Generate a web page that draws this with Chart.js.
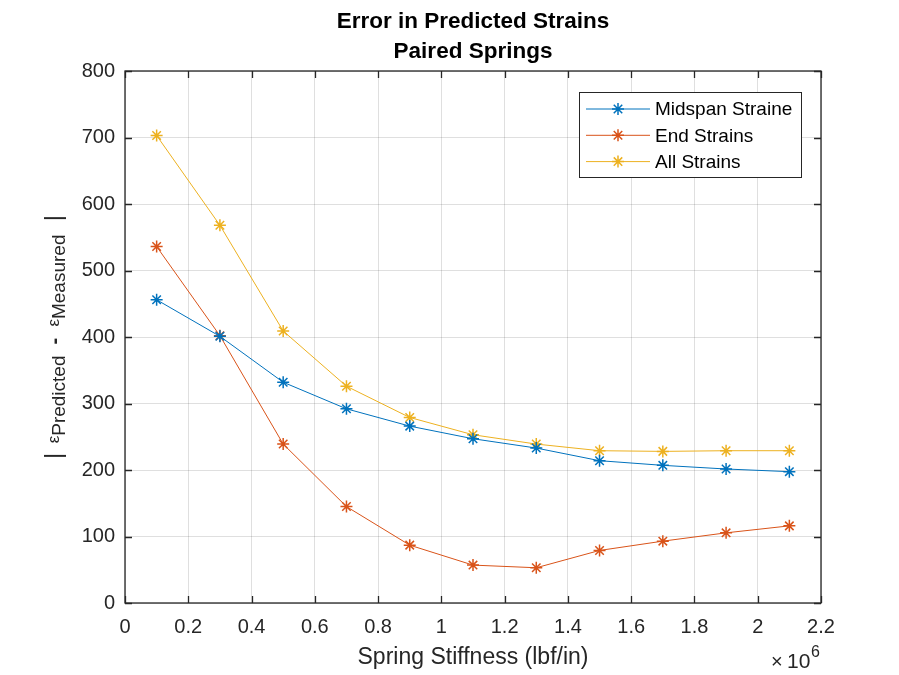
<!DOCTYPE html>
<html>
<head>
<meta charset="utf-8">
<script src="https://cdn.jsdelivr.net/npm/chart.js@4.4.1/dist/chart.umd.min.js"></script>
<style>
  html, body { margin: 0; padding: 0; background: #fff; }
  #wrap { width: 899px; height: 675px; }
</style>
</head>
<body>
<div id="wrap"><canvas id="errChart" width="899" height="675"></canvas></div>
<script>
// values
const stiffness = [100000, 300000, 500000, 700000, 900000, 1100000, 1300000, 1500000, 1700000, 1900000, 2100000];
const midspanErr = [456, 401, 332, 292, 266, 247, 233, 214, 207, 201.5, 197.5];
const endErr = [536, 402, 239, 145, 87, 57, 53, 79, 93, 105.5, 116];
const allErr = [703, 568, 409, 326, 279, 253, 239, 229, 228, 229, 229];

const seriesNames = ['Midspan Straine', 'End Strains', 'All Strains'];
const seriesColors = ['#0072BD', '#D95319', '#EDB120'];
const titleLines = ['Error in Predicted Strains', 'Paired Springs'];
const xLabel = 'Spring Stiffness (lbf/in)';

const FONT = '"Liberation Sans", Arial, Helvetica, sans-serif';
const AXIS_COLOR = '#262626';

function toPoints(ys) {
    return stiffness.map((x, i) => ({ x: x, y: ys[i] }));
}

// asterisk marker like MATLAB '*'
function drawStar(ctx, x, y, r) {
    ctx.beginPath();
    for (let k = 0; k < 4; k++) {
        const a = k * Math.PI / 4;
        ctx.moveTo(x - r * Math.cos(a), y - r * Math.sin(a));
        ctx.lineTo(x + r * Math.cos(a), y + r * Math.sin(a));
    }
    ctx.stroke();
}

const decorPlugin = {
    id: 'decor',
    afterDraw(chart) {
        const ctx = chart.ctx;
        const area = chart.chartArea;
        const xs = chart.scales.x;
        const ys = chart.scales.y;
        ctx.save();

        // box + inward ticks on all four sides
        ctx.strokeStyle = AXIS_COLOR;
        ctx.lineWidth = 1.3;
        ctx.strokeRect(area.left, area.top, area.right - area.left, area.bottom - area.top);
        const tl = 7;
        ctx.beginPath();
        xs.ticks.forEach(t => {
            const px = Math.round(xs.getPixelForValue(t.value)) + 0.5;
            ctx.moveTo(px, area.bottom); ctx.lineTo(px, area.bottom - tl);
            ctx.moveTo(px, area.top); ctx.lineTo(px, area.top + tl);
        });
        ys.ticks.forEach(t => {
            const py = Math.round(ys.getPixelForValue(t.value)) + 0.5;
            ctx.moveTo(area.left, py); ctx.lineTo(area.left + tl, py);
            ctx.moveTo(area.right, py); ctx.lineTo(area.right - tl, py);
        });
        ctx.stroke();

        // title
        const cx = (area.left + area.right) / 2;
        ctx.fillStyle = '#000';
        ctx.textAlign = 'center';
        ctx.textBaseline = 'alphabetic';
        ctx.font = 'bold 22.5px ' + FONT;
        ctx.fillText(titleLines[0], cx, 28);
        ctx.fillText(titleLines[1], cx, 58);

        // x label and exponent
        ctx.fillStyle = AXIS_COLOR;
        ctx.font = '23px ' + FONT;
        ctx.fillText(xLabel, cx, 664);
        ctx.textAlign = 'left';
        ctx.font = '20px ' + FONT;
        ctx.fillText('\u00d7', 771, 668);
        ctx.font = '21px ' + FONT;
        ctx.fillText('10', 787, 668);
        ctx.font = '16px ' + FONT;
        ctx.fillText('6', 811, 657);

        // y label: | eps_Predicted - eps_Measured |
        const parts = [
            { t: '|', f: '24px ', dy: 0 },
            { t: '  \u03b5', f: '17px ', dy: -2 },
            { t: 'Predicted', f: '19px ', dy: 4 },
            { t: '  -  ', f: 'bold 20px ', dy: 0 },
            { t: '\u03b5', f: '17px ', dy: -2 },
            { t: 'Measured', f: '19px ', dy: 4 },
            { t: '  |', f: '24px ', dy: 0 }
        ];
        let total = 0;
        parts.forEach(p => { ctx.font = p.f + FONT; p.w = ctx.measureText(p.t).width; total += p.w; });
        ctx.save();
        ctx.translate(61, 337);
        ctx.rotate(-Math.PI / 2);
        ctx.textAlign = 'left';
        ctx.textBaseline = 'alphabetic';
        let pos = -total / 2;
        parts.forEach(p => {
            ctx.font = p.f + FONT;
            ctx.fillText(p.t, pos, p.dy);
            pos += p.w;
        });
        ctx.restore();

        // legend box in the upper right
        const lx = 579, ly = 92, lw = 222, lh = 85;
        ctx.fillStyle = '#fff';
        ctx.fillRect(lx, ly, lw, lh);
        ctx.strokeStyle = AXIS_COLOR;
        ctx.lineWidth = 1;
        ctx.strokeRect(lx + 0.5, ly + 0.5, lw, lh);
        ctx.font = '19px ' + FONT;
        ctx.textBaseline = 'middle';
        ctx.textAlign = 'left';
        seriesNames.forEach((name, i) => {
            const ry = 109 + i * 26.3;
            ctx.strokeStyle = seriesColors[i];
            ctx.lineWidth = 1;
            ctx.beginPath();
            ctx.moveTo(586, ry); ctx.lineTo(650, ry);
            ctx.stroke();
            ctx.lineWidth = 1.5;
            drawStar(ctx, 618, ry, 6);
            ctx.fillStyle = '#000';
            ctx.fillText(name, 655, ry + 1);
        });

        ctx.restore();
    }
};

const ctx = document.getElementById('errChart').getContext('2d');
new Chart(ctx, {
    type: 'line',
    data: {
        datasets: [midspanErr, endErr, allErr].map((vals, i) => ({
            label: seriesNames[i],
            data: toPoints(vals),
            borderColor: seriesColors[i],
            backgroundColor: seriesColors[i],
            borderWidth: 1,
            pointStyle: 'star',
            pointRadius: 6,
            pointBorderWidth: 1.5,
            pointBorderColor: seriesColors[i],
            tension: 0,
            fill: false
        }))
    },
    options: {
        responsive: false,
        animation: false,
        devicePixelRatio: 1,
        layout: { padding: { left: 0, top: 71, right: 78, bottom: 0 } },
        plugins: {
            legend: { display: false },
            title: { display: false },
            tooltip: { enabled: false }
        },
        scales: {
            x: {
                type: 'linear',
                min: 0,
                max: 2200000,
                afterFit: (s) => { s.height = 72; },
                ticks: {
                    stepSize: 200000,
                    padding: 12,
                    color: AXIS_COLOR,
                    font: { family: FONT, size: 20 },
                    maxRotation: 0,
                    callback: (v) => String(parseFloat((v / 1e6).toFixed(1)))
                },
                grid: { color: 'rgba(38,38,38,0.15)', drawTicks: false },
                border: { display: false }
            },
            y: {
                min: 0,
                max: 800,
                afterFit: (s) => { s.width = 125; },
                ticks: {
                    stepSize: 100,
                    padding: 10,
                    color: AXIS_COLOR,
                    font: { family: FONT, size: 20 }
                },
                grid: { color: 'rgba(38,38,38,0.15)', drawTicks: false },
                border: { display: false }
            }
        }
    },
    plugins: [decorPlugin]
});
</script>
</body>
</html>
